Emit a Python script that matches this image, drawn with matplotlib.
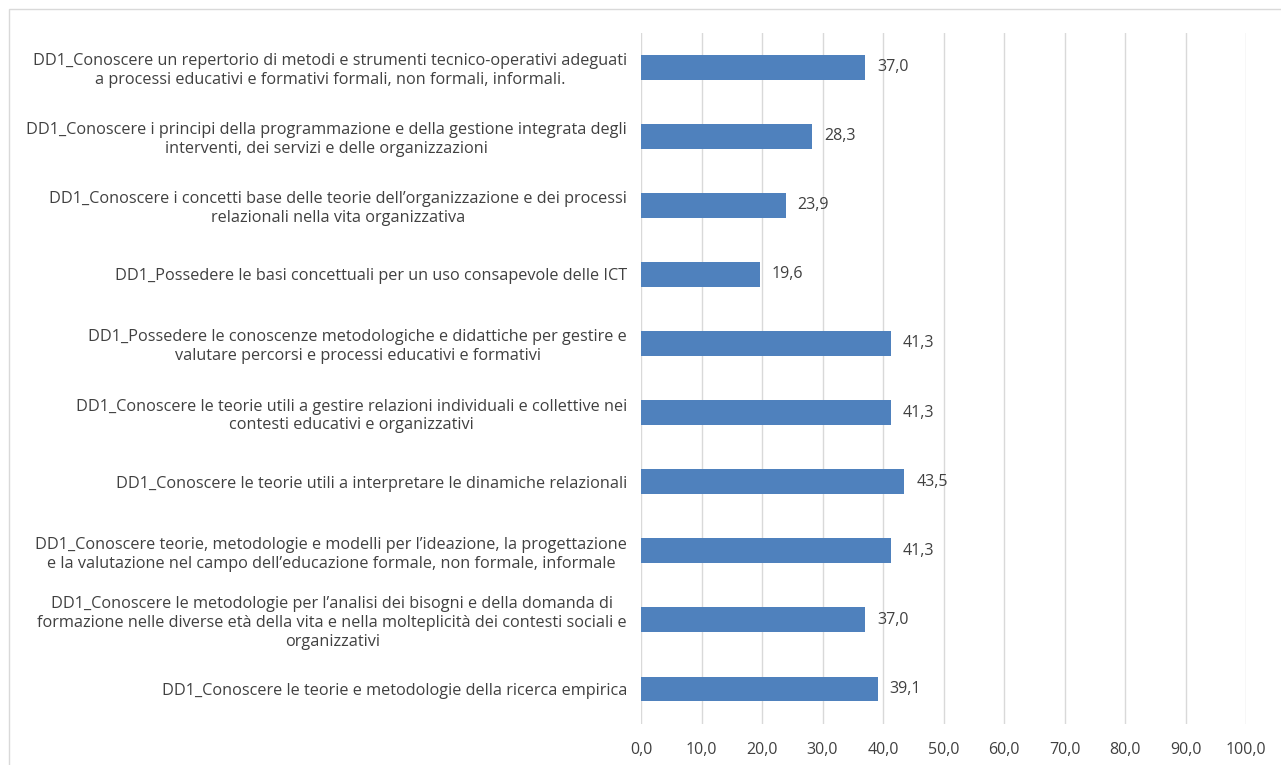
import matplotlib.pyplot as plt
from matplotlib.patches import Rectangle

# categories, top to bottom as in the chart
labels = [
    "DD1_Conoscere un repertorio di metodi e strumenti tecnico-operativi adeguati\na processi educativi e formativi formali, non formali, informali.",
    "DD1_Conoscere i principi della programmazione e della gestione integrata degli\ninterventi, dei servizi e delle organizzazioni",
    "DD1_Conoscere i concetti base delle teorie dell\u2019organizzazione e dei processi\nrelazionali nella vita organizzativa",
    "DD1_Possedere le basi concettuali per un uso consapevole delle ICT",
    "DD1_Possedere le conoscenze metodologiche e didattiche per gestire e\nvalutare percorsi e processi educativi e formativi",
    "DD1_Conoscere le teorie utili a gestire relazioni individuali e collettive nei\ncontesti educativi e organizzativi",
    "DD1_Conoscere le teorie utili a interpretare le dinamiche relazionali",
    "DD1_Conoscere teorie, metodologie e modelli per l\u2019ideazione, la progettazione\ne la valutazione nel campo dell\u2019educazione formale, non formale, informale",
    "DD1_Conoscere le metodologie per l\u2019analisi dei bisogni e della domanda di\nformazione nelle diverse et\u00e0 della vita e nella molteplicit\u00e0 dei contesti sociali e\norganizzativi",
    "DD1_Conoscere le teorie e metodologie della ricerca empirica",
]
values = [37.0, 28.3, 23.9, 19.6, 41.3, 41.3, 43.5, 41.3, 37.0, 39.1]
xticks = [0, 10, 20, 30, 40, 50, 60, 70, 80, 90, 100]

text_col = "#404040"
bar_col = "#4F81BD"

plt.rcParams['font.family'] = ['Open Sans', 'DejaVu Sans']

fig = plt.figure(figsize=(12.81, 7.65), dpi=100)
ax = fig.add_axes([0.5004, 0.0542, 0.4723, 0.9033])

pos = list(range(len(values)))[::-1]
ax.barh(pos, values, height=0.36, color=bar_col, zorder=3)

for p, v in zip(pos, values):
    ax.text(v + 2.0, p, f"{v:.1f}".replace(".", ","), va="center", ha="left",
            fontsize=11.5, color=text_col)

ax.set_ylim(-0.5, len(values) - 0.5)
ax.set_xlim(0, 100)
ax.set_yticks(pos)
ax.set_yticklabels(labels, fontsize=11.7, color=text_col, multialignment="center",
                   linespacing=1.24)
ax.set_xticks(xticks)
ax.set_xticklabels([f"{t:.1f}".replace(".", ",") for t in xticks], fontsize=11.5,
                   color=text_col)
ax.tick_params(axis="y", length=0, pad=10)
ax.tick_params(axis="x", length=0, pad=13)
ax.grid(axis="x", color="#D9D9D9", linewidth=1, zorder=0)
for s in ax.spines.values():
    s.set_visible(False)

# outer chart border
fig.patches.append(Rectangle((9 / 1281, -0.05), 1.2, 1 - 9 / 765 + 0.05,
                             transform=fig.transFigure, fill=False,
                             edgecolor="#D9D9D9", linewidth=1))

fig.savefig("out.png", dpi=100)
